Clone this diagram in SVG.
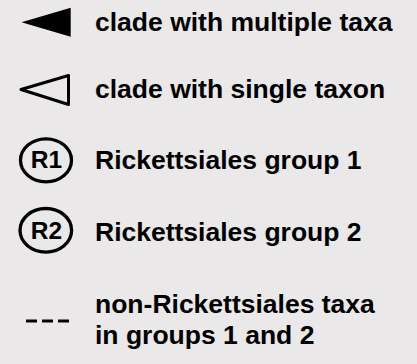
<svg xmlns="http://www.w3.org/2000/svg" width="417" height="364" viewBox="0 0 417 364">
  <style>
    .label { font-family: "Liberation Sans", Arial, sans-serif; font-weight: bold; font-size: 26.5px; fill: #000; }
    .badge-text { font-family: "Liberation Sans", Arial, sans-serif; font-weight: bold; font-size: 24.5px; fill: #000; text-anchor: middle; }
    .badge { fill: none; stroke: #000; stroke-width: 3.3; }
  </style>
  <rect x="0" y="0" width="417" height="364" fill="#eae8e9"/>

  <!-- legend entry: clade with multiple taxa -->
  <g id="multi-clade">
    <polygon points="21.5,22.3 70.7,7.7 70.7,36.7" fill="#000"/>
    <text class="label" x="95" y="31">clade with multiple taxa</text>
  </g>

  <!-- legend entry: clade with single taxon -->
  <g id="single-clade">
    <polygon points="21,89.5 68.5,75.5 68.5,104.5" fill="none" stroke="#000" stroke-width="3" stroke-linejoin="round"/>
    <text class="label" x="95" y="98">clade with single taxon</text>
  </g>

  <!-- legend entry: group 1 -->
  <g id="group-r1">
    <ellipse class="badge" cx="46" cy="160.3" rx="25.5" ry="21.5"/>
    <text class="badge-text" x="46.5" y="168">R1</text>
    <text class="label" x="95" y="169">Rickettsiales group 1</text>
  </g>

  <!-- legend entry: group 2 -->
  <g id="group-r2">
    <ellipse class="badge" cx="45.8" cy="230.3" rx="25.8" ry="21.8"/>
    <text class="badge-text" x="46.5" y="239">R2</text>
    <text class="label" x="95" y="241">Rickettsiales group 2</text>
  </g>

  <!-- legend entry: dashed line -->
  <g id="non-rickettsiales">
    <line x1="26" y1="321" x2="69" y2="321" stroke="#000" stroke-width="3" stroke-dasharray="11 5"/>
    <text class="label" x="95" y="313">non-Rickettsiales taxa</text>
    <text class="label" x="95" y="344">in groups 1 and 2</text>
  </g>
</svg>
